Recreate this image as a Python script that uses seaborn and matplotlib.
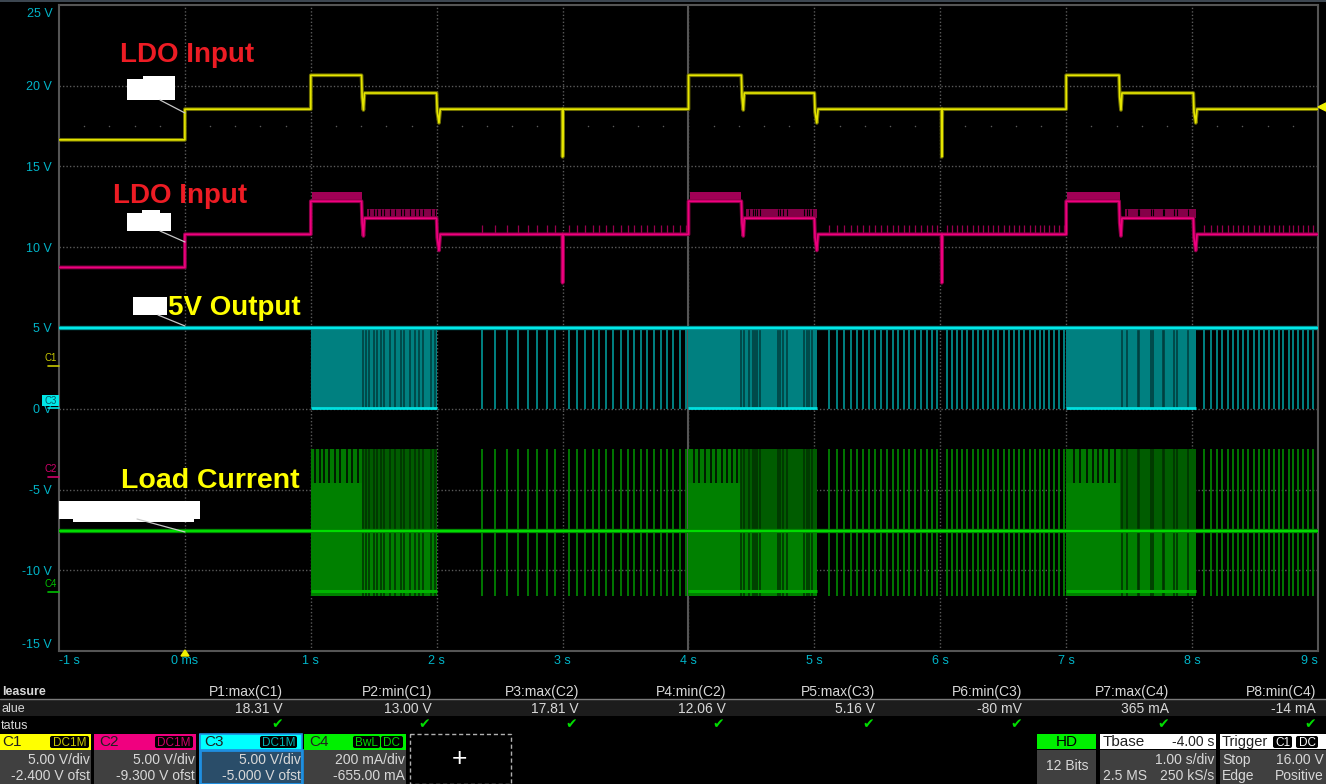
import numpy as np
import seaborn as sns
import matplotlib.pyplot as plt
from matplotlib.patches import Rectangle, FancyBboxPatch

######################### Values ###############################################
X_TICKS = [-1, 0, 1, 2, 3, 4, 5, 6, 7, 8, 9]
X_LABELS = ["-1 s", "0 ms", "1 s", "2 s", "3 s", "4 s", "5 s", "6 s", "7 s", "8 s", "9 s"]
Y_TICKS = [25, 20, 15, 10, 5, 0, -5, -10, -15]
Y_LABELS = ["", "20 V", "15 V", "10 V", "5 V", "0 V", "-5 V", "-10 V", "-15 V"]

TRACE_T = [-1, 0, 0, 1, 1, 1.403, 1.408, 1.418, 1.426, 1.999, 2.004, 2.018, 2.028, 2.998, 3.0, 3.004,
           4.0, 4.0, 4.42, 4.425, 4.435, 4.443, 5.0, 5.005, 5.019, 5.029, 6.01, 6.012, 6.016,
           7.0, 7.0, 7.42, 7.425, 7.435, 7.443, 8.01, 8.015, 8.029, 8.039, 9.0]
YELLOW_V = [16.65, 16.65, 18.55, 18.55, 20.65, 20.65, 19.3, 18.5, 19.55, 19.55, 18.4, 17.7, 18.55, 18.55, 15.6, 18.55,
            18.55, 20.65, 20.65, 19.3, 18.5, 19.55, 19.55, 18.4, 17.7, 18.55, 18.55, 15.6, 18.55,
            18.55, 20.65, 20.65, 19.3, 18.5, 19.55, 19.55, 18.4, 17.7, 18.55, 18.55]
MAGENTA_V = [8.75, 8.75, 10.8, 10.8, 12.85, 12.85, 11.5, 10.7, 11.8, 11.8, 10.6, 9.8, 10.8, 10.8, 7.8, 10.8,
             10.8, 12.85, 12.85, 11.5, 10.7, 11.8, 11.8, 10.6, 9.8, 10.8, 10.8, 7.8, 10.8,
             10.8, 12.85, 12.85, 11.5, 10.7, 11.8, 11.8, 10.6, 9.8, 10.8, 10.8]
TIME_SPAN = [-1, 9]
CYAN_LEVEL = [5.0, 5.0]
GREEN_LEVEL = [-7.6, -7.6]

BURST_START = [1.0, 4.0, 7.0]
BURST_SOLID_END = [1.41, 4.42, 7.43]
BURST_END = [2.0, 5.02, 8.03]

PULSES = [2.359, 2.465, 2.56, 2.647, 2.727, 2.80, 2.873, 2.939, 3.052, 3.111, 3.177, 3.238, 3.29,
          3.344, 3.402, 3.461, 3.516, 3.569, 3.62, 3.672, 3.725, 3.778, 3.831, 3.879, 3.932, 3.979,
          5.115, 5.179, 5.234, 5.288, 5.335, 5.383, 5.433, 5.48, 5.526, 5.573, 5.621, 5.666, 5.711,
          5.753, 5.798, 5.843, 5.891, 5.936, 5.976, 6.05, 6.089, 6.129, 6.171, 6.214, 6.256, 6.296,
          6.336, 6.381, 6.42, 6.46, 6.505, 6.547, 6.587, 6.627, 6.667, 6.713, 6.749, 6.791, 6.825,
          6.865, 6.905, 6.945, 6.982,
          8.094, 8.147, 8.194, 8.239, 8.284, 8.327, 8.366, 8.406, 8.445, 8.491, 8.533, 8.573, 8.613,
          8.65, 8.687, 8.724, 8.766, 8.803, 8.843, 8.883, 8.922, 8.962]

BURST_GAPS = [1.416, 1.438, 1.461, 1.501, 1.527, 1.559, 1.581, 1.628, 1.668, 1.713, 1.739, 1.787,
              1.827, 1.861, 1.888, 1.951, 1.986,
              4.42, 4.44, 4.48, 4.51, 4.527, 4.546, 4.57, 4.71, 4.73, 4.75, 4.78, 4.92, 4.94, 4.96, 4.98,
              7.44, 7.48, 7.567, 7.58, 7.67, 7.686, 7.765, 7.779, 7.856, 7.877, 7.97]
GREEN_TOP_SLITS = [1.033, 1.072, 1.104, 1.144, 1.191, 1.231, 1.287, 1.327, 1.374,
                   4.043, 4.085, 4.13, 4.178, 4.218, 4.263, 4.303, 4.348, 4.388,
                   7.061, 7.109, 7.167, 7.21, 7.254, 7.294, 7.342, 7.387]

MEASURE_NAMES = ["P1:max(C1)", "P2:min(C1)", "P3:max(C2)", "P4:min(C2)",
                 "P5:max(C3)", "P6:min(C3)", "P7:max(C4)", "P8:min(C4)"]
MEASURE_VALUES = ["18.31 V", "13.00 V", "17.81 V", "12.06 V", "5.16 V", "-80 mV", "365 mA", "-14 mA"]
################################################################################

YELLOW = "#e6e600"
MAGENTA = "#f0007f"
CYAN = "#00e0e0"
GREEN = "#00dc00"
LABEL = "#00b4c8"
PANEL = "#404040"
TXT = "#d8d8d8"

sns.set_theme(style="dark", rc={"figure.facecolor": "black", "axes.facecolor": "black",
                                "savefig.facecolor": "black"})
plt.rcParams["font.family"] = ["Liberation Sans", "DejaVu Sans"]

fig = plt.figure(figsize=(13.26, 7.84), dpi=100)

# axes box in screen pixels: x 59..1318, y 5..651
ax = fig.add_axes([59 / 1326, 1 - 651 / 784, (1318 - 59) / 1326, (651 - 5) / 784])
ax.set_xlim(-1, 9)
ax.set_ylim(-15, 25)


def trace(t, v, color, halo, lw=1.5):
    sns.lineplot(x=t, y=v, color=halo, lw=lw + 1.5, sort=False, estimator=None, errorbar=None, ax=ax, zorder=4)
    sns.lineplot(x=t, y=v, color=color, lw=lw, sort=False, estimator=None, errorbar=None, ax=ax, zorder=5)


######################## grid ########################
ax.set_xticks(X_TICKS, X_LABELS)
ax.set_yticks(Y_TICKS, Y_LABELS)
ax.tick_params(length=0, labelsize=9, labelcolor=LABEL, pad=5)
ax.xaxis.set_tick_params(pad=3)
xlabels = ax.get_xticklabels()
xlabels[0].set_ha("left")
xlabels[-1].set_ha("right")
ax.get_yticklabels()[-1].set_va("bottom")
for x in X_TICKS[1:-1]:
    ax.axvline(x, color="#5a5a5a", lw=1, ls=(0, (1, 1.5)), zorder=1)
for y in Y_TICKS[1:-1]:
    ax.axhline(y, color="#5a5a5a", lw=1, ls=(0, (1, 1.5)), zorder=1)
ax.axvline(4, color="#555555", lw=1.5, zorder=1)
ax.scatter(np.arange(-0.8, 9, 0.2), np.full(49, 17.5), s=1.2, color="#5a5a5a", lw=0, zorder=1)
for s in ax.spines.values():
    s.set_visible(True)
    s.set_color("#555555")
    s.set_linewidth(1.5)

######################## C3 and C4 bursts ########################
for start, solid, end in zip(BURST_START, BURST_SOLID_END, BURST_END):
    ax.fill_between([start, end], 0.05, 4.9, color="#008080", lw=0, zorder=2)
    ax.fill_between([start, end], -11.6, -7.6, color="#008000", lw=0, zorder=2)
    ax.fill_between([start, solid], -7.6, -4.6, color="#008000", lw=0, zorder=2)
    ax.fill_between([start, solid], -4.6, -2.5, color="#007800", lw=0, zorder=2)
    ax.fill_between([solid, end], -7.6, -2.5, color="#005c00", lw=0, zorder=2)
    ax.hlines([0.05], start, end, color=CYAN, lw=2, zorder=4)
    ax.hlines([-11.3], start, end, color="#00b400", lw=2.2, zorder=4)

ax.vlines(BURST_GAPS, 0.05, 4.9, color="#003c3c", lw=1.1, zorder=3)
ax.vlines(BURST_GAPS, -11.6, -2.5, color="#003000", lw=1.1, zorder=3)
ax.vlines(GREEN_TOP_SLITS, -4.6, -2.4, color="black", lw=1.1, zorder=3)

######################## sparse pulses ########################
ax.vlines(PULSES, 0.0, 5.0, color="#008c8c", lw=1.3, zorder=3)
ax.vlines(PULSES, -11.6, -2.5, color="#008c00", lw=1.2, zorder=3)
ax.vlines(PULSES, 10.8, 11.4, color="#98004f", lw=0.9, zorder=3)

######################## C2 ripple during the high steps ########################
for start, solid, end in zip(BURST_START, BURST_SOLID_END, BURST_END):
    ax.fill_between([start + 0.01, solid], 12.85, 13.4, color="#a00055", lw=0, zorder=3)
    ax.fill_between([solid + 0.04, end], 11.8, 12.35, color="#850048", lw=0, zorder=3)
ax.vlines(BURST_GAPS, 11.95, 12.35, color="black", lw=0.8, zorder=3)

trace(TIME_SPAN, CYAN_LEVEL, "#00e8e8", "#008c8c", lw=1.6)
trace(TIME_SPAN, GREEN_LEVEL, GREEN, "#008000", lw=1.6)
trace(TRACE_T, MAGENTA_V, MAGENTA, "#8c0048", lw=1.2)
trace(TRACE_T, YELLOW_V, YELLOW, "#6e6e00", lw=1.2)

######################## overlay in screen pixels ########################
ov = fig.add_axes([0, 0, 1, 1], zorder=10)
ov.set_xlim(0, 1326)
ov.set_ylim(784, 0)
ov.axis("off")
ov.patch.set_alpha(0)


def box(x0, y0, x1, y1, color, **kw):
    ov.add_patch(Rectangle((x0, y0), x1 - x0, y1 - y0, facecolor=color, edgecolor=kw.pop("edge", "none"), **kw))


def tag(x0, x1, label, color):
    ov.add_patch(FancyBboxPatch((x0 + 1, 737), x1 - x0 - 2, 10, boxstyle="round,pad=1,rounding_size=2",
                                facecolor="black", edgecolor="none"))
    ov.text((x0 + x1) / 2, 742.5, label, color=color, fontsize=8.5, ha="center", va="center")


def txt(x, y, s, ha="right", color=TXT, size=10, **kw):
    ov.text(x, y, s, ha=ha, va="center", color=color, fontsize=size, **kw)


ov.add_patch(Rectangle((0, 0), 1326, 2, facecolor="#3c4650", edgecolor="none"))
# the top label sits inside the box, below its own gridline
txt(53, 14, "25 V", color=LABEL, size=9)

# hand written labels and the white blobs over the probe names
for x, y, s, c, size in [(187, 55, "LDO Input", "#ed1c24", 20), (180, 196, "LDO Input", "#ed1c24", 20),
                         (234, 308, "5V Output", "#ffff00", 20), (210, 481, "Load Current", "#ffff00", 20.5)]:
    ov.text(x, y, s, color=c, fontsize=size, fontweight="bold", ha="center", va="center")
for x0, y0, x1, y1 in [(127, 79, 175, 100), (143, 76, 175, 97), (127, 213, 171, 231), (142, 210, 160, 215),
                       (133, 297, 167, 315), (59, 501, 200, 519), (73, 505, 194, 522)]:
    box(x0, y0, x1, y1, "white")
for x0, y0, x1, y1 in [(160, 100, 185, 113), (160, 231, 185, 242), (158, 315, 185, 326), (137, 519, 185, 532)]:
    ov.plot([x0, x1], [y0, y1], color="#c8c8c8", lw=0.9)

# channel markers left of the grid
for y_text, y_tick, s, c in [(358, 366, "C1", "#c8c800"), (469, 477, "C2", "#d0006a"), (584, 592, "C4", "#00c000")]:
    txt(57, y_text, s, color=c, size=7)
    ov.plot([48, 59], [y_tick, y_tick], color=c, lw=1.2)
box(42, 395, 59, 406, "#00e8e8")
txt(57, 400.5, "C3", color="#005a64", size=7)
ov.plot([48, 59], [408, 408], color="#00e8e8", lw=1.2)
ov.fill([185, 181, 189], [650, 656, 656], color="#f0f000")
ov.fill([1318, 1326, 1326], [107, 103, 111], color="#f0f000")

# measurement table, its first column runs off the left edge of the screen grab
box(0, 700, 1326, 716, "#1c1c1c")
ov.plot([0, 1326], [699, 699], color="#7a7a7a", lw=1)
txt(2, 692, "leasure", ha="left", size=9, fontweight="bold")
txt(1, 709, "alue", ha="left", size=9)
txt(1, 726, "tatus", ha="left", size=9)
name_x = [283, 432, 579, 726, 875, 1022, 1169, 1316]
check_x = [277, 424, 571, 718, 868, 1016, 1163, 1310]
for x, cx, name, value in zip(name_x, check_x, MEASURE_NAMES, MEASURE_VALUES):
    txt(x, 692, name)
    txt(x, 709, value)
    ov.text(cx, 724, "\u2714", color="#00dc00", fontsize=10, ha="center", va="center", family="DejaVu Sans")

# channel descriptor boxes
channels = [(-3, 91, "#ffff00", "C1", "5.00 V/div", "-2.400 V ofst", PANEL),
            (94, 196, "#f0007f", "C2", "5.00 V/div", "-9.300 V ofst", PANEL),
            (199, 302, "#00ffff", "C3", "5.00 V/div", "-5.000 V ofst", "#2a4d69"),
            (304, 406, "#00f000", "C4", "200 mA/div", "-655.00 mA", PANEL)]
for x0, x1, c, name, l1, l2, bg in channels:
    box(x0, 750, x1, 784, bg)
    box(x0, 734, x1, 750, c)
    txt(max(x0 + 5, 1), 742, name, ha="left", color="#202020", size=11)
    txt(x1 - 1, 760, l1)
    txt(x1 - 1, 776, l2)
ov.add_patch(Rectangle((199.5, 750), 102, 34, facecolor="none", edgecolor="#1f8fe0", lw=2))
ov.add_patch(Rectangle((199.5, 734), 102, 50, facecolor="none", edgecolor="#1f8fe0", lw=1.2))
tag(50, 89, "DC1M", "#c8c800")
tag(155, 193, "DC1M", "#d0006a")
tag(260, 297, "DC1M", "#00b4b4")
tag(353, 380, "BwL", "#00dc00")
tag(381, 403, "DC", "#00dc00")

ov.add_patch(Rectangle((410, 734), 101, 50, facecolor="black", edgecolor="#b0b0b0", lw=1, ls=(0, (3, 2))))
ov.text(459, 759, "+", color="white", fontsize=19, ha="center", va="center")

# acquisition and trigger boxes
box(1037, 750, 1096, 784, PANEL)
box(1037, 734, 1096, 749, "#00f000")
txt(1067, 742, "HD", ha="center", color="black", size=11)
txt(1067, 766, "12 Bits", ha="center")

box(1100, 750, 1216, 784, PANEL)
box(1100, 734, 1216, 749, "white")
txt(1103, 742, "Tbase", ha="left", color="#202020", size=11)
txt(1214, 742, "-4.00 s", color="#202020")
txt(1214, 760, "1.00 s/div")
txt(1103, 776, "2.5 MS", ha="left")
txt(1214, 776, "250 kS/s")

box(1220, 750, 1326, 784, PANEL)
box(1220, 734, 1326, 749, "white")
txt(1222, 742, "Trigger", ha="left", color="#202020", size=10.5)
for x0, x1, s in [(1273, 1292, "C1"), (1296, 1318, "DC")]:
    tag(x0, x1, s, "white")
txt(1222, 760, "Stop", ha="left")
txt(1324, 760, "16.00 V")
txt(1222, 776, "Edge", ha="left")
txt(1324, 776, "Positive")

fig.savefig("out.png", dpi=100)
